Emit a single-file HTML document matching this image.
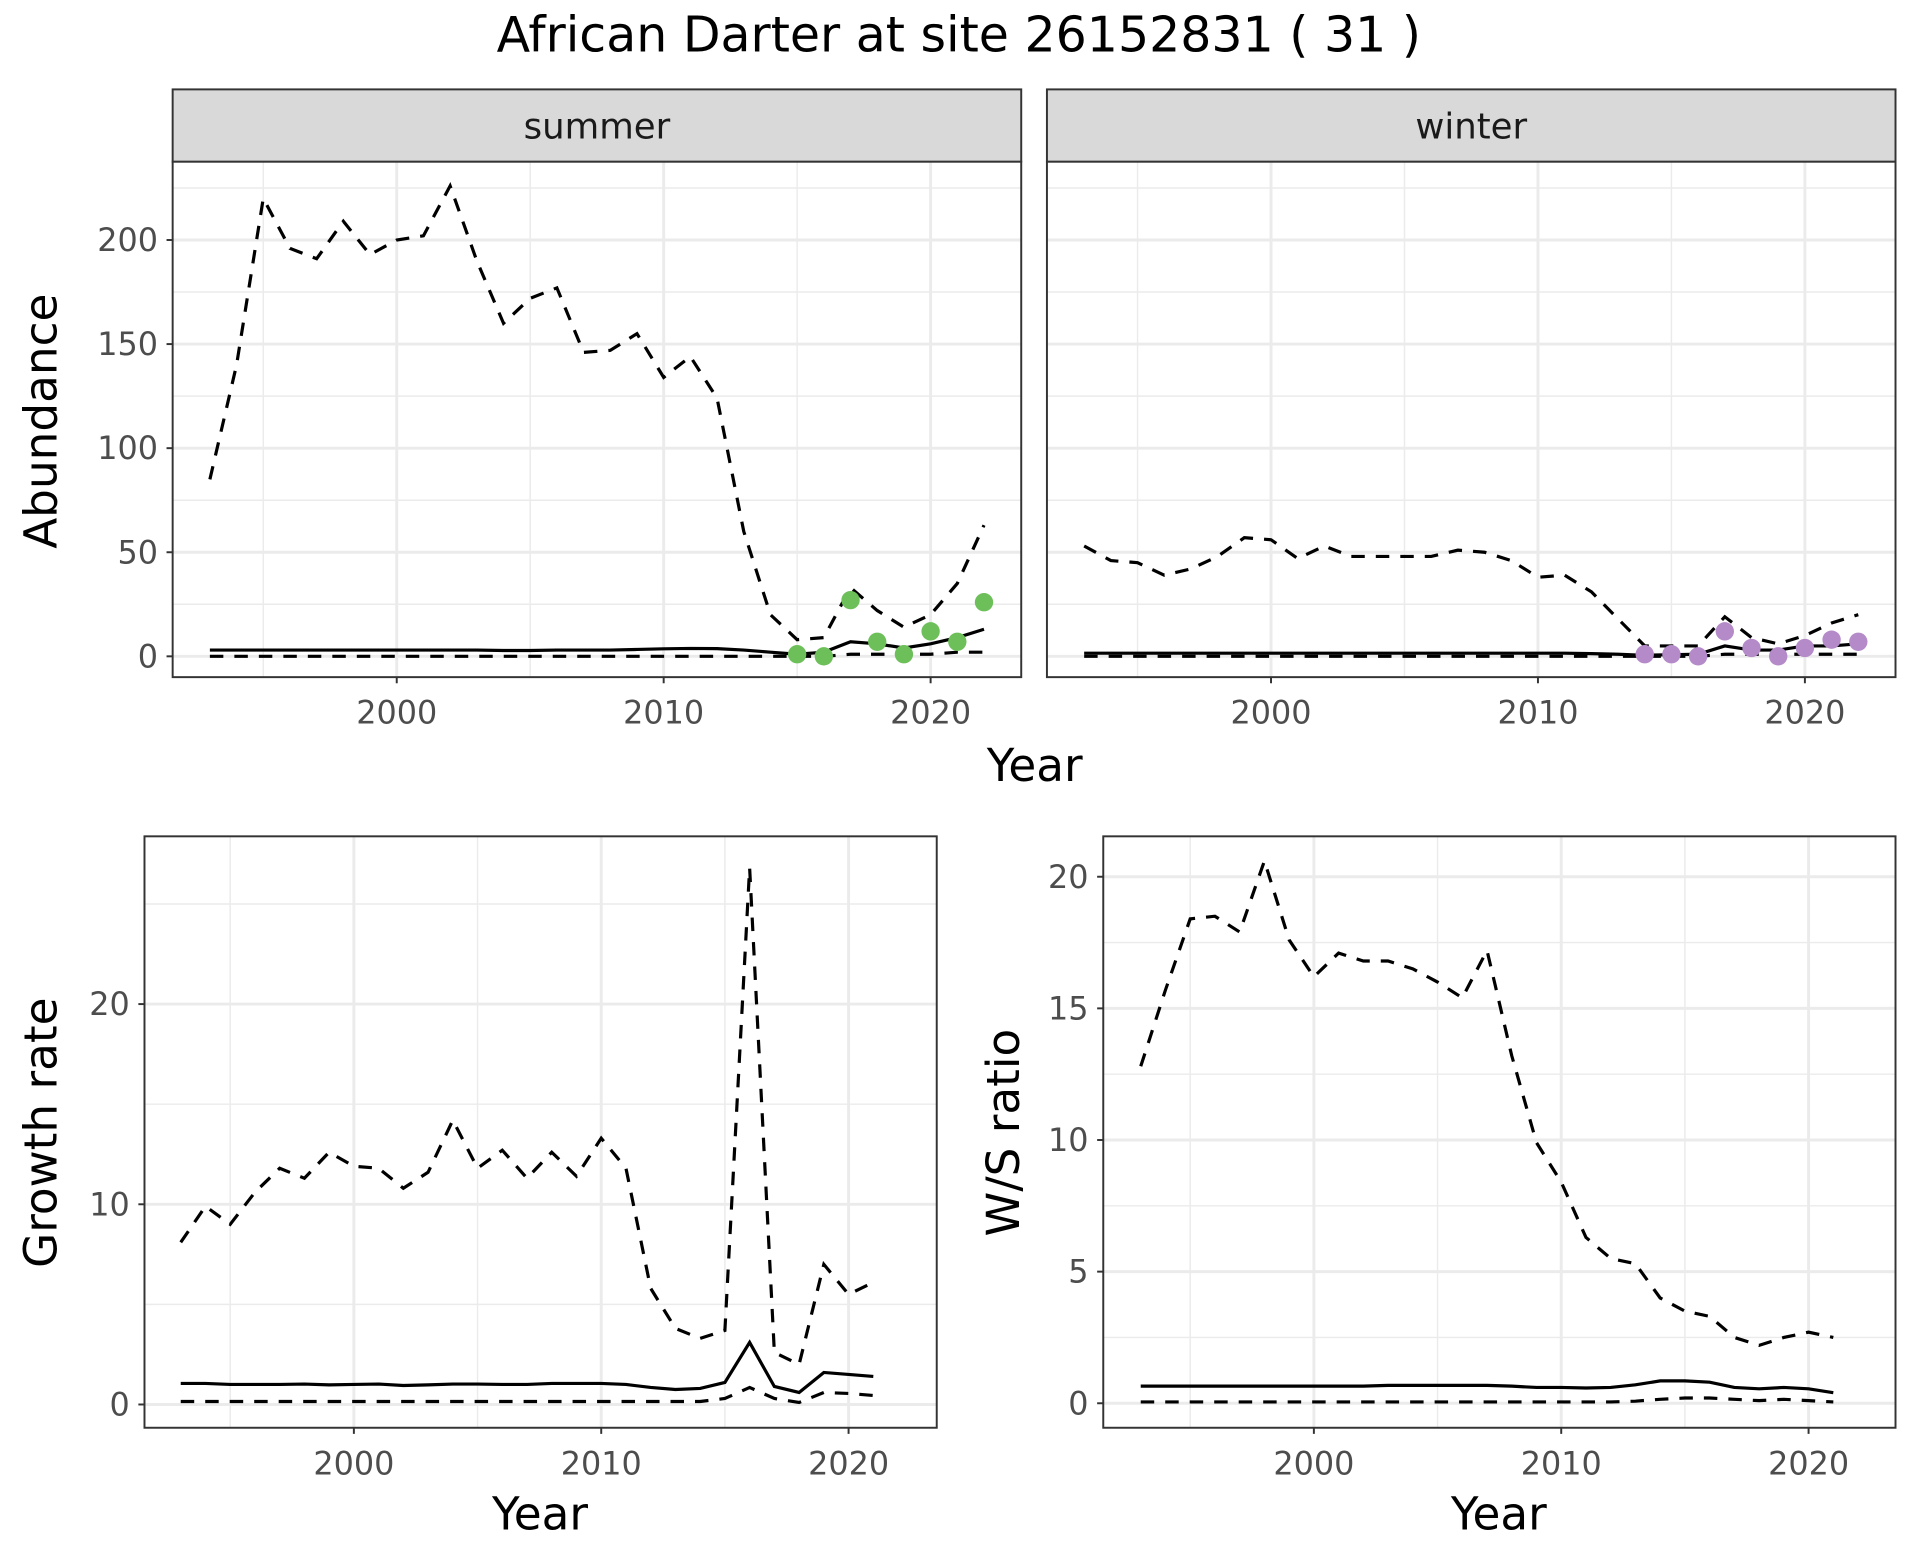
<!DOCTYPE html>
<html><head><meta charset="utf-8"><style>
html,body{margin:0;padding:0;background:#fff;}
svg{display:block;font-family:"DejaVu Sans","Liberation Sans",sans-serif;}
</style></head><body>
<svg id="chart" width="1920" height="1560" viewBox="0 0 1568 1274" preserveAspectRatio="none" xmlns="http://www.w3.org/2000/svg">
<text x="783" y="42" font-size="40" text-anchor="middle" fill="#000">African Darter at site 26152831 ( 31 )</text>
</svg>
<script>
const yearsAb = [1993,1994,1995,1996,1997,1998,1999,2000,2001,2002,2003,2004,2005,2006,2007,2008,2009,2010,2011,2012,2013,2014,2015,2016,2017,2018,2019,2020,2021,2022];
const summerUpper = [85,140,220,196,191,209,193,200,202,226,190,160,172,177,146,147,155,134,144,124,60,20,8,9,33,22,14,20,35,63];
const summerMean = [3,3,3,3,3,3,3,3,3,3,3,2.8,2.8,3,3,3,3.3,3.6,3.8,3.7,3,2,1,2,7,6,4,6,9,13];
const summerLower = [0,0,0,0,0,0,0,0,0,0,0,0,0,0,0,0,0,0,0,0,0,0,0,0,1,1,1,1,2,2];
const summerPtYears = [2015,2016,2017,2018,2019,2020,2021,2022];
const summerPts = [1,0,27,7,1,12,7,26];
const winterUpper = [53,46,45,39,42,48,57,56,47,53,48,48,48,48,51,50,46,38,39,31,18,5,5,5,19,9,6,10,16,20];
const winterMean = [1.5,1.5,1.5,1.5,1.5,1.5,1.5,1.5,1.5,1.5,1.5,1.5,1.5,1.5,1.5,1.5,1.5,1.5,1.5,1.3,1,0.5,0.8,1,5,3,3,5,5,6];
const winterLower = [0,0,0,0,0,0,0,0,0,0,0,0,0,0,0,0,0,0,0,0,0,0,0,0,1,1,1,1,1,1];
const winterPtYears = [2014,2015,2016,2017,2018,2019,2020,2021,2022];
const winterPts = [1,1,0,12,4,0,4,8,7];
const yearsGr = [1993,1994,1995,1996,1997,1998,1999,2000,2001,2002,2003,2004,2005,2006,2007,2008,2009,2010,2011,2012,2013,2014,2015,2016,2017,2018,2019,2020,2021];
const growthUpper = [8.1,9.9,9.0,10.6,11.8,11.3,12.6,11.9,11.8,10.8,11.6,14.2,11.8,12.7,11.3,12.6,11.4,13.3,11.8,5.8,3.8,3.3,3.7,26.8,2.6,2.0,7.0,5.5,6.1];
const growthMean = [1.05,1.05,1.0,1.0,1.0,1.02,0.98,1.0,1.02,0.95,0.98,1.02,1.02,1.0,1.0,1.05,1.05,1.05,1.0,0.85,0.75,0.8,1.1,3.1,0.9,0.6,1.6,1.5,1.4];
const growthLower = [0.15,0.15,0.15,0.15,0.15,0.15,0.15,0.15,0.15,0.15,0.15,0.15,0.15,0.15,0.15,0.15,0.15,0.15,0.15,0.15,0.15,0.15,0.3,0.85,0.3,0.1,0.6,0.55,0.45];
const ratioUpper = [12.8,15.7,18.4,18.5,17.9,20.6,17.6,16.2,17.1,16.8,16.8,16.5,16.0,15.4,17.2,13.2,9.9,8.4,6.3,5.5,5.3,4.0,3.5,3.3,2.5,2.2,2.5,2.7,2.5];
const ratioMean = [0.65,0.65,0.65,0.65,0.65,0.65,0.65,0.65,0.65,0.65,0.68,0.68,0.68,0.68,0.68,0.65,0.6,0.6,0.58,0.6,0.7,0.85,0.85,0.8,0.6,0.55,0.6,0.55,0.4];
const ratioLower = [0.05,0.05,0.05,0.05,0.05,0.05,0.05,0.05,0.05,0.05,0.05,0.05,0.05,0.05,0.05,0.05,0.05,0.05,0.05,0.05,0.08,0.15,0.2,0.2,0.15,0.1,0.15,0.1,0.05];
const xTicks = [2000,2010,2020];
const abTicks = [0,50,100,150,200];
const grTicks = [0,10,20];
const raTicks = [0,5,10,15,20];

const NS='http://www.w3.org/2000/svg';
const svg=document.getElementById('chart');
function el(tag,attrs,parent){const e=document.createElementNS(NS,tag);for(const k in attrs)e.setAttribute(k,attrs[k]);(parent||svg).appendChild(e);return e;}

function panel(cfg){
  const g=el('g',{});
  
  
  const {x0,x1,y0,y1}=cfg;
  const sx=v=>cfg.xa+(v-2000)*cfg.xs;
  const sy=v=>cfg.ya-v*cfg.ys;
  el('rect',{x:x0,y:y0,width:x1-x0,height:y1-y0,fill:'#fff'},g);
  for(let yr=1995;yr<=2025;yr+=10){const X=sx(yr);if(X>x0&&X<x1)el('line',{x1:X,x2:X,y1:y0,y2:y1,stroke:'#ebebeb','stroke-width':1.2},g);}
  for(let i=0;i<cfg.yTicks.length+1;i++){const v=cfg.yTicks[0]+(i+0.5)*(cfg.yTicks[1]-cfg.yTicks[0]);const Y=sy(v);if(Y>y0&&Y<y1)el('line',{x1:x0,x2:x1,y1:Y,y2:Y,stroke:'#ebebeb','stroke-width':1.2},g);}
  xTicks.forEach(t=>{const X=sx(t);el('line',{x1:X,x2:X,y1:y0,y2:y1,stroke:'#ebebeb','stroke-width':2.4},g);});
  cfg.yTicks.forEach(t=>{const Y=sy(t);el('line',{x1:x0,x2:x1,y1:Y,y2:Y,stroke:'#ebebeb','stroke-width':2.4},g);});
  const ln=(xs,ys,dash,nm)=>{const p=el('polyline',{points:xs.map((x,i)=>sx(x)+','+sy(ys[i])).join(' '),fill:'none',stroke:'#000','stroke-width':2.6,'stroke-dasharray':dash?'11,9':'none'},g);};
  ln(cfg.years,cfg.upper,true,'upper-bound-line');
  ln(cfg.years,cfg.mean,false,'mean-line');
  ln(cfg.years,cfg.lower,true,'lower-bound-line');
  if(cfg.pts){cfg.ptYears.forEach((yr,i)=>{const c=el('circle',{cx:sx(yr),cy:sy(cfg.pts[i]),r:7.5,fill:cfg.ptColor},g);});}
  el('rect',{x:x0,y:y0,width:x1-x0,height:y1-y0,fill:'none',stroke:'#333','stroke-width':1.6},g);
  if(cfg.showY){cfg.yTicks.forEach(t=>{const Y=sy(t);el('line',{x1:x0-5,x2:x0,y1:Y,y2:Y,stroke:'#333','stroke-width':1.6},g);const tx=el('text',{x:x0-12,y:Y+9,'font-size':26,'text-anchor':'end',fill:'#4d4d4d'},g);tx.textContent=t;});}
  xTicks.forEach(t=>{const X=sx(t);el('line',{x1:X,x2:X,y1:y1,y2:y1+5,stroke:'#333','stroke-width':1.6},g);const tx=el('text',{x:X,y:y1+38,'font-size':26,'text-anchor':'middle',fill:'#4d4d4d'},g);tx.textContent=t;});
  if(cfg.strip){el('rect',{x:x0,y:y0-59,width:x1-x0,height:59,fill:'#d9d9d9',stroke:'#333','stroke-width':1.6},g);const st=el('text',{x:(x0+x1)/2,y:y0-19,'font-size':29,'text-anchor':'middle',fill:'#1a1a1a'},g);st.textContent=cfg.strip;}
}
function label(txt,x,y,rot,name){const t=el('text',{x:x,y:y,'font-size':37,'text-anchor':'middle',fill:'#000',transform:rot?`rotate(-90 ${x} ${y})`:''});t.textContent=txt;}

panel({name:'summer-panel',x0:141,x1:834,y0:132,y1:553,xa:324,xs:21.8,ya:536,ys:1.7,yTicks:abTicks,years:yearsAb,upper:summerUpper,mean:summerMean,lower:summerLower,pts:summerPts,ptYears:summerPtYears,ptColor:'#6dbf5a',showY:true,strip:'summer'});
panel({name:'winter-panel',x0:855,x1:1548,y0:132,y1:553,xa:1038,xs:21.8,ya:536,ys:1.7,yTicks:abTicks,years:yearsAb,upper:winterUpper,mean:winterMean,lower:winterLower,pts:winterPts,ptYears:winterPtYears,ptColor:'#b48ac8',showY:false,strip:'winter'});
panel({name:'growth-rate-panel',x0:118,x1:765,y0:683,y1:1166,xa:289,xs:20.2,ya:1147,ys:16.35,yTicks:grTicks,years:yearsGr,upper:growthUpper,mean:growthMean,lower:growthLower,showY:true});
panel({name:'ws-ratio-panel',x0:901,x1:1548,y0:683,y1:1166,xa:1073,xs:20.2,ya:1146,ys:21.5,yTicks:raTicks,years:yearsGr,upper:ratioUpper,mean:ratioMean,lower:ratioLower,showY:true});

label('Abundance',46,344,true,'y-axis-title-abundance');
label('Year',845,638,false,'x-axis-title-top');
label('Growth rate',46,925,true,'y-axis-title-growth');
label('Year',441,1249,false,'x-axis-title-growth');
label('W/S ratio',832,925,true,'y-axis-title-ratio');
label('Year',1224,1249,false,'x-axis-title-ratio');
</script>
</body></html>
